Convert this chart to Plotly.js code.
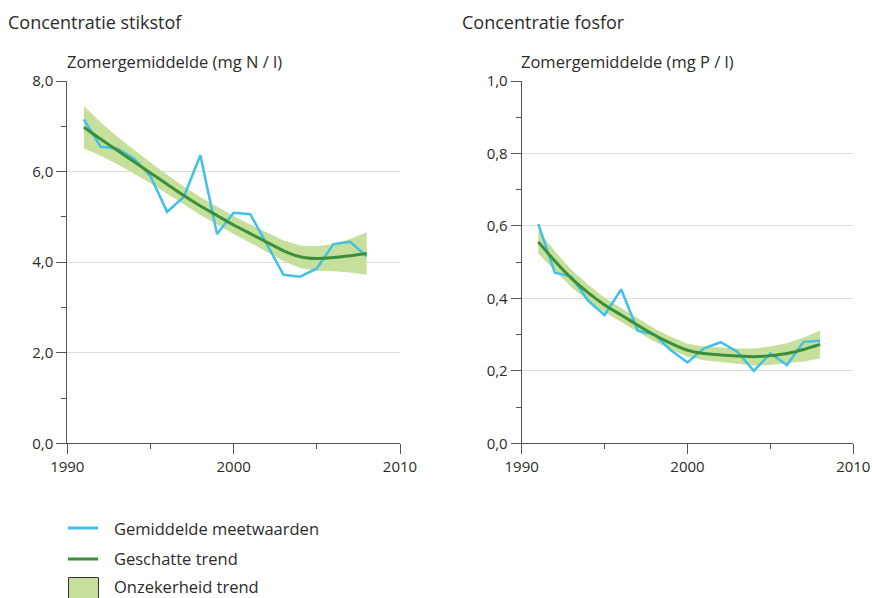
<!DOCTYPE html>
<html>
<head>
<meta charset="utf-8">
<script src="https://cdn.plot.ly/plotly-3.0.1.min.js"></script>
<style>html,body{margin:0;padding:0;background:#fff;}#chart{width:872px;height:598px;}</style>
</head>
<body>
<div id="chart"></div>
<script>
// ---- Data ----
const years = [1991,1992,1993,1994,1995,1996,1997,1998,1999,2000,2001,2002,2003,2004,2005,2006,2007,2008];

// Stikstof (mg N / l)
const nMeasured = [7.15,6.55,6.51,6.29,5.90,5.11,5.44,6.36,4.62,5.09,5.06,4.40,3.72,3.68,3.86,4.40,4.45,4.13];
const nTrend    = [6.98,6.72,6.47,6.22,5.97,5.72,5.47,5.24,5.03,4.82,4.63,4.44,4.25,4.12,4.08,4.10,4.14,4.19];
const nUpper    = [7.45,7.09,6.77,6.48,6.20,5.93,5.67,5.44,5.23,5.02,4.83,4.65,4.48,4.37,4.35,4.40,4.51,4.66];
const nLower    = [6.51,6.35,6.17,5.96,5.74,5.51,5.27,5.04,4.83,4.62,4.43,4.23,4.02,3.87,3.81,3.80,3.77,3.72];

// Fosfor (mg P / l)
const pMeasured = [0.605,0.471,0.460,0.394,0.354,0.425,0.311,0.300,0.257,0.223,0.262,0.279,0.253,0.200,0.248,0.216,0.280,0.283];
const pTrend    = [0.556,0.503,0.455,0.416,0.382,0.354,0.326,0.299,0.276,0.257,0.248,0.244,0.241,0.239,0.242,0.248,0.259,0.273];
const pUpper    = [0.588,0.530,0.479,0.438,0.402,0.373,0.344,0.317,0.294,0.275,0.267,0.264,0.262,0.262,0.267,0.276,0.292,0.311];
const pLower    = [0.524,0.476,0.431,0.394,0.362,0.335,0.308,0.281,0.258,0.239,0.229,0.224,0.220,0.215,0.216,0.220,0.226,0.234];

const panelTitles = ['Concentratie stikstof', 'Concentratie fosfor'];
const unitLabels  = ['Zomergemiddelde (mg N / l)', 'Zomergemiddelde (mg P / l)'];
const legendLabels = ['Gemiddelde meetwaarden', 'Geschatte trend', 'Onzekerheid trend'];

// ---- Style ----
const W = 872, H = 598;
const FONT = 'Open Sans, Noto Sans, sans-serif';
const TXT = '#2b2b2b';
const BLUE = '#41c0e8';
const GREEN = '#3a9038';
const BAND = '#c6e09b';
const AX = '#555555';
const GRID = '#dcdcdc';

function px(x){ return x / W; }
function py(y){ return 1 - y / H; }

function series(xa, ya, meas, trend, upper, lower){
  return [
    {x: years, y: lower, xaxis: xa, yaxis: ya, type: 'scatter', mode: 'lines',
     line: {width: 0, color: BAND}, hoverinfo: 'skip', showlegend: false},
    {x: years, y: upper, xaxis: xa, yaxis: ya, type: 'scatter', mode: 'lines',
     line: {width: 0, color: BAND}, fill: 'tonexty', fillcolor: BAND,
     name: legendLabels[2], showlegend: false},
    {x: years, y: meas, xaxis: xa, yaxis: ya, type: 'scatter', mode: 'lines',
     line: {width: 2.5, color: BLUE}, name: legendLabels[0], showlegend: false},
    {x: years, y: trend, xaxis: xa, yaxis: ya, type: 'scatter', mode: 'lines',
     line: {width: 3, color: GREEN, shape: 'spline', smoothing: 0.6}, name: legendLabels[1], showlegend: false}
  ];
}

const data = [].concat(
  series('x', 'y', nMeasured, nTrend, nUpper, nLower),
  series('x2', 'y2', pMeasured, pTrend, pUpper, pLower)
);

const yDomain = [1 - 443.3 / H, 1 - 81 / H];

function xAxis(domain, anchor){
  return {
    domain: domain, anchor: anchor, range: [1990, 2010], dtick: 10, tick0: 1990,
    tickformat: 'd', ticks: 'outside', ticklen: 10, tickwidth: 1, tickcolor: AX,
    showline: true, linecolor: AX, linewidth: 1, showgrid: false, zeroline: false,
    minor: {dtick: 5, tick0: 1990, ticks: 'outside', ticklen: 5, tickcolor: AX, showgrid: false},
    tickfont: {family: FONT, size: 15, color: TXT}, fixedrange: true
  };
}
function yAxis(anchor, max, dtick){
  return {
    domain: yDomain, anchor: anchor, range: [0, max], dtick: dtick, tick0: 0,
    tickformat: '.1f', ticks: 'outside', ticklen: 10, tickwidth: 1, tickcolor: AX,
    showline: true, linecolor: AX, linewidth: 1, showgrid: true, gridcolor: GRID, gridwidth: 1,
    zeroline: false,
    minor: {dtick: dtick / 2, tick0: 0, ticks: 'outside', ticklen: 5, tickcolor: AX, showgrid: false},
    tickfont: {family: FONT, size: 15, color: TXT}, fixedrange: true
  };
}

const annotations = [
  {text: panelTitles[0], x: px(6), y: py(22), xref: 'paper', yref: 'paper', xanchor: 'left', yanchor: 'middle', showarrow: false, font: {family: FONT, size: 18, color: TXT}},
  {text: panelTitles[1], x: px(460), y: py(22), xref: 'paper', yref: 'paper', xanchor: 'left', yanchor: 'middle', showarrow: false, font: {family: FONT, size: 18, color: TXT}},
  {text: unitLabels[0], x: px(65), y: py(61), xref: 'paper', yref: 'paper', xanchor: 'left', yanchor: 'middle', showarrow: false, font: {family: FONT, size: 16.5, color: TXT}},
  {text: unitLabels[1], x: px(519), y: py(61), xref: 'paper', yref: 'paper', xanchor: 'left', yanchor: 'middle', showarrow: false, font: {family: FONT, size: 16.5, color: TXT}},
  {text: legendLabels[0], x: px(112), y: py(528), xref: 'paper', yref: 'paper', xanchor: 'left', yanchor: 'middle', showarrow: false, font: {family: FONT, size: 16.5, color: TXT}},
  {text: legendLabels[1], x: px(112), y: py(558), xref: 'paper', yref: 'paper', xanchor: 'left', yanchor: 'middle', showarrow: false, font: {family: FONT, size: 16.5, color: TXT}},
  {text: legendLabels[2], x: px(112), y: py(586), xref: 'paper', yref: 'paper', xanchor: 'left', yanchor: 'middle', showarrow: false, font: {family: FONT, size: 16.5, color: TXT}}
];

const shapes = [
  {type: 'line', xref: 'paper', yref: 'paper', x0: px(68), x1: px(98), y0: py(528), y1: py(528), line: {color: BLUE, width: 3}},
  {type: 'line', xref: 'paper', yref: 'paper', x0: px(68), x1: px(98), y0: py(559), y1: py(559), line: {color: GREEN, width: 3}},
  {type: 'rect', xref: 'paper', yref: 'paper', x0: px(68.5), x1: px(98.5), y0: py(600), y1: py(577.5), fillcolor: BAND, line: {color: '#333333', width: 1}}
];

const layout = {
  width: W, height: H,
  margin: {l: 0, r: 0, t: 0, b: 0, pad: 0},
  paper_bgcolor: '#ffffff', plot_bgcolor: '#ffffff',
  separators: ', ',
  showlegend: false,
  font: {family: FONT, color: TXT},
  xaxis: xAxis([67.3 / W, 400 / W], 'y'),
  yaxis: yAxis('x', 8, 2),
  xaxis2: xAxis([521.7 / W, 853.3 / W], 'y2'),
  yaxis2: yAxis('x2', 1, 0.2),
  annotations: annotations,
  shapes: shapes
};

Plotly.newPlot('chart', data, layout, {displayModeBar: false, staticPlot: true});
</script>
</body>
</html>
